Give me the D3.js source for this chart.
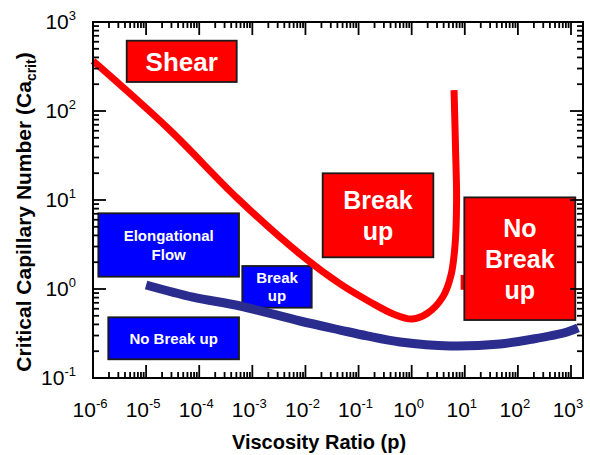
<!DOCTYPE html>
<html>
<head>
<meta charset="utf-8">
<script src="https://cdn.jsdelivr.net/npm/d3@7/dist/d3.min.js"></script>
<style>
  html, body { margin: 0; padding: 0; background: #fff; }
  svg text { font-family: "Liberation Sans", Arial, Helvetica, sans-serif; }
</style>
</head>
<body>
<svg id="chart" width="590" height="455"></svg>
<script>
// Critical capillary number for drop break-up versus viscosity ratio,
// for simple shear flow and for elongational flow.

const xTickExponents = [-6, -5, -4, -3, -2, -1, 0, 1, 2, 3];
const yTickExponents = [-1, 0, 1, 2, 3];

// Simple shear flow critical curve
const shearP  = [1e-6, 2.8e-5, 5.2e-4, 7.9e-3, 0.045, 0.165, 0.45, 1.02, 1.95, 3.9, 5.52, 6.56, 7.01, 6.71, 6.28];
const shearCa = [365, 61, 10.5, 2.47, 1.14, 0.715, 0.524, 0.46, 0.53, 0.824, 1.44, 3.12, 10, 36.5, 172];

// Short shear-curve fragment left of the "No Break up" box
const shearStubP  = [9.3, 9.3];
const shearStubCa = [0.98, 1.44];

// Elongational flow critical curve
const elongP  = [1e-5, 7.6e-5, 5.9e-4, 7.9e-3, 0.045, 0.145, 0.605, 5.3, 46, 193, 845, 1360];
const elongCa = [1.11, 0.81, 0.644, 0.437, 0.346, 0.297, 0.254, 0.229, 0.241, 0.274, 0.329, 0.365];

// Flow-regime labels and the region each one covers (p and Ca ranges)
const regionFlow  = ["shear", "shear", "shear", "elong", "elong", "elong"];
const regionLines = [["Shear"], ["Break", "up"], ["No", "Break", "up"],
                     ["Elongational", "Flow"], ["Break", "up"], ["No Break up"]];
const regionP0    = [4.31e-6, 0.0211, 9.8, 1.26e-6, 6.47e-4, 1.94e-6];
const regionP1    = [5.08e-4, 2.56, 1205, 5.61e-4, 0.01312, 5.61e-4];
const regionCa0   = [211.8, 2.27, 0.448, 1.375, 0.6165, 0.1622];
const regionCa1   = [616.6, 19.95, 10.7, 7.09, 1.813, 0.481];

const svg = d3.select("#chart");
const frame = { left: 93, right: 583, top: 22, bottom: 378 };

const x = d3.scaleLog()
  .domain([1e-6, Math.pow(10, 3 + (frame.right - 571) / 53.11)])
  .range([frame.left, frame.right]);
const y = d3.scaleLog()
  .domain([1e-1, 1e3])
  .range([frame.bottom, frame.top]);

const RED = "#ff0000", BLUE = "#0000ff", NAVY = "#2b2d8e";

const line = d3.line()
  .x(d => x(d[0])).y(d => y(d[1]))
  .curve(d3.curveCatmullRom.alpha(0.5));

// fragment sits partly under the right-hand box
svg.append("path")
  .datum(shearStubP.map((p, i) => [p, shearStubCa[i]]))
  .attr("d", d3.line().x(d => x(d[0])).y(d => y(d[1])))
  .attr("fill", "none").attr("stroke", RED).attr("stroke-width", 5);

// --- regime boxes
regionFlow.forEach((flow, i) => {
  const x0 = x(regionP0[i]), x1 = x(regionP1[i]);
  const y0 = y(regionCa1[i]), y1 = y(regionCa0[i]);
  svg.append("rect")
    .attr("x", x0).attr("y", y0)
    .attr("width", x1 - x0).attr("height", y1 - y0)
    .attr("fill", flow === "shear" ? RED : BLUE)
    .attr("stroke", "#1a1a1a").attr("stroke-width", 1.8);
  const lines = regionLines[i];
  const fs = flow === "shear" ? (i === 0 ? 26 : 25) : 15;
  const lh = flow === "shear" ? 31 : 18.5;
  const cx = (x0 + x1) / 2, cy = (y0 + y1) / 2;
  const first = cy + fs * 0.358 - lh * (lines.length - 1) / 2;
  lines.forEach((t, k) => {
    svg.append("text")
      .attr("x", cx).attr("y", first + k * lh)
      .attr("text-anchor", "middle")
      .attr("font-size", fs).attr("font-weight", "bold")
      .attr("fill", "#fff")
      .text(t);
  });
});

// --- curves
svg.append("path")
  .datum(elongP.map((p, i) => [p, elongCa[i]]))
  .attr("d", line)
  .attr("fill", "none").attr("stroke", NAVY).attr("stroke-width", 9);

svg.append("path")
  .datum(shearP.map((p, i) => [p, shearCa[i]]))
  .attr("d", line)
  .attr("fill", "none").attr("stroke", RED).attr("stroke-width", 7);

// --- frame and ticks (all four sides, pointing inward)
const axes = svg.append("g").attr("stroke", "#000").attr("fill", "none");
axes.append("rect")
  .attr("x", frame.left).attr("y", frame.top)
  .attr("width", frame.right - frame.left).attr("height", frame.bottom - frame.top)
  .attr("stroke-width", 2);

function logTicks(scale) {
  const [lo, hi] = scale.domain();
  const out = [];
  for (let e = Math.floor(Math.log10(lo)); e <= Math.ceil(Math.log10(hi)); e++) {
    for (let m = 1; m <= 9; m++) {
      const v = m * Math.pow(10, e);
      if (v >= lo * 0.9999 && v <= hi * 1.0001) out.push({ v, major: m === 1 });
    }
  }
  return out;
}
const MAJOR = 13, MINOR = 6;
logTicks(x).forEach(t => {
  const px = x(t.v), len = t.major ? MAJOR : MINOR;
  axes.append("line").attr("x1", px).attr("x2", px)
    .attr("y1", frame.bottom).attr("y2", frame.bottom - len).attr("stroke-width", 1.8);
  axes.append("line").attr("x1", px).attr("x2", px)
    .attr("y1", frame.top).attr("y2", frame.top + len).attr("stroke-width", 1.8);
});
logTicks(y).forEach(t => {
  const py = y(t.v), len = t.major ? MAJOR : MINOR;
  axes.append("line").attr("y1", py).attr("y2", py)
    .attr("x1", frame.left).attr("x2", frame.left + len).attr("stroke-width", 1.8);
  axes.append("line").attr("y1", py).attr("y2", py)
    .attr("x1", frame.right).attr("x2", frame.right - len).attr("stroke-width", 1.8);
});

// --- tick labels as powers of ten
function powerLabel(g, e) {
  g.append("tspan").attr("font-size", 21).text("10");
  g.append("tspan").attr("font-size", 13).attr("dy", -9).text(String(e));
}
xTickExponents.forEach(e => {
  const t = svg.append("text")
    .attr("x", x(Math.pow(10, e)) - 3).attr("y", 417)
    .attr("text-anchor", "middle").attr("fill", "#000");
  powerLabel(t, e);
});
yTickExponents.forEach(e => {
  const t = svg.append("text")
    .attr("x", 76).attr("y", y(Math.pow(10, e)) + 7)
    .attr("text-anchor", "end").attr("fill", "#000");
  powerLabel(t, e);
});

// --- axis titles
svg.append("text")
  .attr("x", 319).attr("y", 449)
  .attr("text-anchor", "middle")
  .attr("font-size", 20).attr("font-weight", "bold")
  .text("Viscosity Ratio (p)");

const yt = svg.append("text")
  .attr("transform", "translate(31,212) rotate(-90)")
  .attr("text-anchor", "middle")
  .attr("font-size", 21).attr("font-weight", "bold");
yt.append("tspan").text("Critical Capillary Number (Ca");
yt.append("tspan").attr("font-size", 14).attr("dy", 5).text("crit");
yt.append("tspan").attr("dy", -5).text(")");
</script>
</body>
</html>
